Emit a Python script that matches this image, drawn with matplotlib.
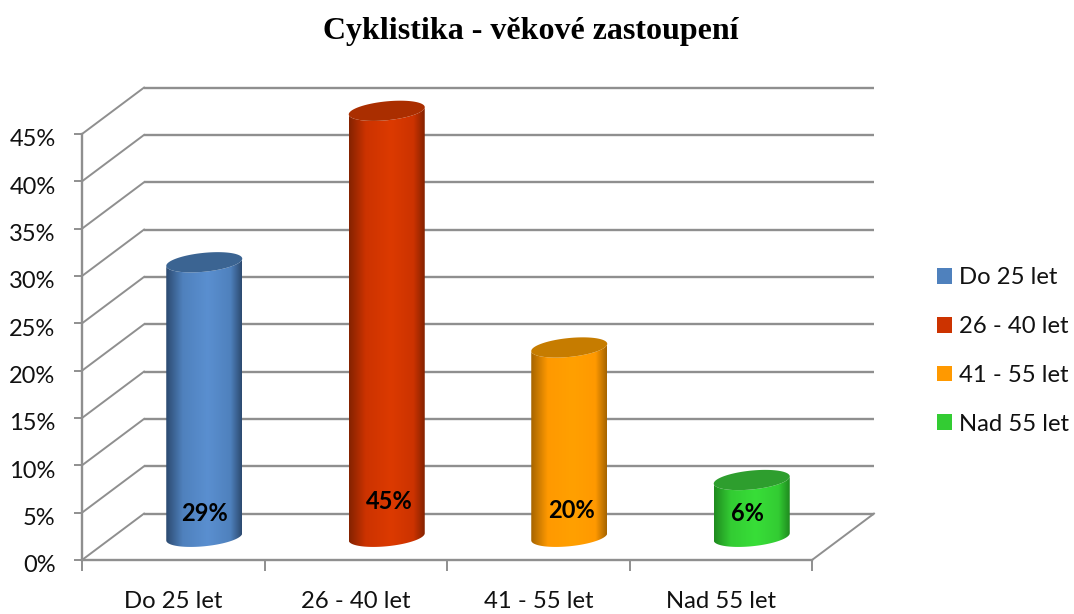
"""Cyklistika - pseudo 3D sloupcový graf (válce)."""

import numpy as np
import matplotlib
matplotlib.use('Agg')
import matplotlib.pyplot as plt
from matplotlib.colors import LinearSegmentedColormap
from matplotlib.patches import Patch, Polygon
from matplotlib.transforms import ScaledTranslation

categories = ['Do 25 let', '26 - 40 let', '41 - 55 let', 'Nad 55 let']
values = [29, 45, 20, 6]
y_ticks = [0, 5, 10, 15, 20, 25, 30, 35, 40, 45]

legend_colors = ['#4f81bd', '#cc3300', '#ff9900', '#33cc33']
edge_colors = ['#2c4a70', '#842200', '#a56400', '#1f8a1f']
mid_colors = ['#5a8fd0', '#dc3a00', '#ffa000', '#38de38']
top_colors = ['#3b6492', '#aa2e00', '#c67c00', '#2e9e2e']
label_shift = [2.45, 3.7, 2.8, 2.5]  # výška popisku nad dnem válce (%)
label_dx = [0.0, 0.016, 0.011, -0.022]  # vodorovný posun popisku

W, H = 1074, 614
GRID = '#8f8f8f'

# hloubka 3D v jednotkách os
DX = 62 / 182.5
DY = 4.9
RX = 38 / 182.5   # poloosa válce
RY = 1.0
SHEAR = 0.38

plt.rcParams['font.family'] = ['Lato', 'DejaVu Sans']

fig = plt.figure(figsize=(W / 100, H / 100), dpi=100)
ax = fig.add_axes([82 / W, 1 - 560 / H, 730 / W, 426 / H])
ax.set_xlim(0, 4)
ax.set_ylim(0, 45)

# mřížka: zadní stěna, boční stěna, podlaha
for v in y_ticks:
    ax.plot([DX, 4 + DX], [v + DY, v + DY], color=GRID, lw=1.7,
            clip_on=False, zorder=1, solid_capstyle='butt')
    ax.plot([0, DX], [v, v + DY], color=GRID, lw=1.4, clip_on=False, zorder=1)
ax.plot([4, 4 + DX], [0, DY], color=GRID, lw=1.4, clip_on=False, zorder=1)

for spine in ['top', 'right']:
    ax.spines[spine].set_visible(False)
for spine in ['left', 'bottom']:
    ax.spines[spine].set_color(GRID)
    ax.spines[spine].set_linewidth(1.7)

ax.set_yticks(y_ticks)
ax.set_yticklabels([f'{v}%' for v in y_ticks], fontsize=17, color='#111111')
ax.set_xticks(range(5))
ax.set_xticklabels([])
ax.set_xticks([i + 0.5 for i in range(4)], minor=True)
ax.set_xticklabels(categories, minor=True, fontsize=17.2, color='#111111')
ax.tick_params(axis='y', length=6, width=1.4, color=GRID, pad=13)
ax.tick_params(axis='x', which='major', length=8, width=1.4, color=GRID)
ax.tick_params(axis='x', which='minor', length=0, pad=22)
offset = ScaledTranslation(0, -4 / 100, fig.dpi_scale_trans)
for lab in ax.get_yticklabels():
    lab.set_transform(lab.get_transform() + offset)

t = np.linspace(0, 2 * np.pi, 120)


def ellipse(cx, cy, tt):
    return cx + RX * np.cos(tt), cy + RY * np.sin(tt) + SHEAR * np.cos(tt)


for i, val in enumerate(values):
    cx = i + 0.5 + DX / 2
    y0 = DY / 2
    y1 = val + DY / 2

    # tělo válce: přední půlka dna + přední půlka vršku
    tt = np.linspace(np.pi, 2 * np.pi, 60)
    xb, yb = ellipse(cx, y0, tt)
    xt, yt = ellipse(cx, y1, tt[::-1])
    body = Polygon(np.column_stack([np.r_[xb, xt], np.r_[yb, yt]]), closed=True,
                   transform=ax.transData, fc='none', ec='none', clip_on=False)
    ax.add_patch(body)
    cmap = LinearSegmentedColormap.from_list(
        'valec', [(0, edge_colors[i]), (0.22, legend_colors[i]), (0.55, mid_colors[i]),
                  (0.85, legend_colors[i]), (1, edge_colors[i])])
    im = ax.imshow(np.linspace(0, 1, 256).reshape(1, -1), cmap=cmap, aspect='auto',
                   extent=[cx - RX, cx + RX, y0 - 2, y1 + 2], zorder=3)
    im.set_clip_box(fig.bbox)
    im.set_clip_path(body)

    # vršek válce
    xe, ye = ellipse(cx, y1, t)
    ax.fill(xe, ye, color=top_colors[i], zorder=4, clip_on=False, lw=0)

    ax.text(cx + label_dx[i], y0 + label_shift[i], f'{val}%', ha='center', va='center',
            fontsize=17, fontweight='bold', color='black', zorder=5)

ax.set_xlim(0, 4)
ax.set_ylim(0, 45)

fig.text(531 / W, 1 - 32 / H, 'Cyklistika - věkové zastoupení', ha='center', va='center',
         fontsize=23, fontweight='bold', family=['Liberation Serif'], color='black')

handles = [Patch(fc=c, ec='none') for c in legend_colors]
fig.legend(handles, categories, loc='center left', bbox_to_anchor=(915 / W, 1 - 351 / H),
           frameon=False, fontsize=17.2, handlelength=0.63, handleheight=0.63,
           handletextpad=0.3, labelspacing=1.16, labelcolor='#111111')

fig.savefig('out.png', dpi=100)
